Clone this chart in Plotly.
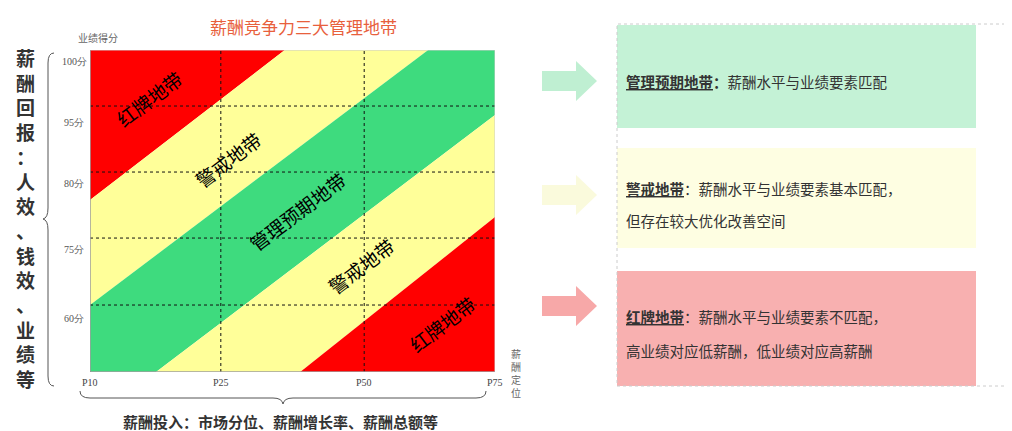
import plotly.graph_objects as go

# ---- data ----
x_ticks = [0, 0.323, 0.677, 1]
x_labels = ["P10", "P25", "P50", "P75"]
y_grid = [0.208, 0.416, 0.621, 0.826]
y_label_pos = [0.965, 0.775, 0.585, 0.38, 0.167]
y_labels = ["100分", "95分", "80分", "75分", "60分"]

# band polygons (x, y in normalised axis units)
red_top_x = [0, 0, 0.481]
red_top_y = [0.534, 1, 1]
yel_top_x = [0, 0, 0.481, 0.835]
yel_top_y = [0.208, 0.534, 1, 1]
green_x = [0, 0, 0.835, 1, 1, 0.163]
green_y = [0, 0.208, 1, 1, 0.798, 0]
yel_bot_x = [0.163, 1, 1, 0.519]
yel_bot_y = [0, 0.798, 0.481, 0]
red_bot_x = [0.519, 1, 1]
red_bot_y = [0, 0.481, 0]

bands = [
    (red_top_x, red_top_y, "#FF0000"),
    (yel_top_x, yel_top_y, "#FFFF99"),
    (green_x, green_y, "#3EDB7E"),
    (yel_bot_x, yel_bot_y, "#FFFF99"),
    (red_bot_x, red_bot_y, "#FF0000"),
]
band_names = ["红牌地带", "警戒地带", "管理预期地带", "警戒地带", "红牌地带"]
band_label_x = [0.145, 0.34, 0.51, 0.67, 0.87]
band_label_y = [0.85, 0.66, 0.5, 0.33, 0.15]

W, H = 1012, 431
L, R, T, B = 82, 487, 42, 364
FONT = "Noto Sans CJK SC"


def px(x):
    return (x - L) / (R - L)


def py(y):
    return (B - y) / (B - T)


fig = go.Figure()
for bx, by, c in bands:
    fig.add_trace(go.Scatter(x=bx + [bx[0]], y=by + [by[0]], fill="toself",
                             fillcolor=c, line=dict(width=0), mode="lines",
                             hoverinfo="skip", showlegend=False))

ann = []


def A(**kw):
    kw.setdefault("xanchor", "center")
    kw.setdefault("yanchor", "middle")
    kw.setdefault("showarrow", False)
    kw.setdefault("xref", "paper")
    kw.setdefault("yref", "paper")
    ann.append(kw)


for n, x, y in zip(band_names, band_label_x, band_label_y):
    A(x=x, y=y, xref="x", yref="y", text=n, textangle=-37,
      font=dict(size=19, color="#000", family=FONT))

shapes = []
for g in x_ticks[1:3]:
    shapes.append(dict(type="line", xref="x", yref="y", x0=g, x1=g, y0=0, y1=1,
                       line=dict(color="#111", width=1, dash="3px,3px")))
for g in y_grid:
    shapes.append(dict(type="line", xref="x", yref="y", x0=0, x1=1, y0=g, y1=g,
                       line=dict(color="#111", width=1, dash="3px,3px")))
shapes.append(dict(type="rect", xref="x", yref="y", x0=0, x1=1, y0=0, y1=1, line=dict(color="#ccc", width=1)))
shapes.append(dict(type="line", xref="x", yref="y", x0=0, x1=0, y0=0, y1=1, line=dict(color="#888", width=1)))
shapes.append(dict(type="line", xref="x", yref="y", x0=0, x1=1, y0=0, y1=0, line=dict(color="#888", width=1)))

for t, v in zip(x_labels, x_ticks):
    A(x=v, y=py(374), xref="x", text=t, font=dict(size=10, color="#444", family="Liberation Serif"))
for t, v in zip(y_labels, y_label_pos):
    A(x=px(66), y=v, text=t, font=dict(size=10, color="#555", family="Liberation Serif"))

A(x=px(295), y=py(18), text="薪酬竞争力三大管理地带", font=dict(size=17, color="#E8603C", family=FONT))
A(x=px(90), y=py(30), text="业绩得分", font=dict(size=10, color="#666", family=FONT))
A(x=px(508), y=py(365), text="薪<br>酬<br>定<br>位", font=dict(size=10, color="#666", family=FONT))
A(x=px(17), y=py(210), text="<b>" + "<br>".join("薪酬回报：人效、钱效、业绩等") + "</b>",
  font=dict(size=19, color="#333", family=FONT))
A(x=px(272), y=py(413), text="<b>薪酬投入：市场分位、薪酬增长率、薪酬总额等</b>",
  font=dict(size=15, color="#333", family=FONT))


def P(x, y):
    return f"{px(x)},{py(y)}"


shapes.append(dict(type="path", xref="paper", yref="paper",
                   path=f"M{P(46,45)} Q{P(40,45)} {P(40,55)} L{P(40,200)} Q{P(40,210)} {P(35,211)} "
                        f"Q{P(40,212)} {P(40,222)} L{P(40,368)} Q{P(40,378)} {P(46,378)}",
                   line=dict(color="#555", width=1)))
shapes.append(dict(type="path", xref="paper", yref="paper",
                   path=f"M{P(72,383)} Q{P(72,390)} {P(82,390)} L{P(265,390)} Q{P(274,390)} {P(275,396)} "
                        f"Q{P(276,390)} {P(285,390)} L{P(468,390)} Q{P(478,390)} {P(478,383)}",
                   line=dict(color="#555", width=1)))

shapes.append(dict(type="rect", xref="paper", yref="paper", x0=px(609), x1=px(1000), y0=py(378), y1=py(16),
                   line=dict(color="#ccc", width=1, dash="dot")))
boxes = [(17, 120, "#C4F2D6", "#BFEFD2", 73), (140, 240, "#FEFEE2", "#FAFADC", 187), (263, 378, "#F8B0B0", "#F7A8A8", 298)]
for y0, y1, c, ac, ay in boxes:
    shapes.append(dict(type="rect", xref="paper", yref="paper", x0=px(609), x1=px(968), y0=py(y1), y1=py(y0),
                       fillcolor=c, line=dict(width=0), layer="below"))
    shapes.append(dict(type="path", xref="paper", yref="paper",
                       path=f"M{P(534,ay-10)} L{P(568,ay-10)} L{P(568,ay-20)} L{P(589,ay)} L{P(568,ay+20)} "
                            f"L{P(568,ay+10)} L{P(534,ay+10)} Z",
                       fillcolor=ac, line=dict(width=0)))

texts = [
    (73, "<b><u>管理预期地带</u>：</b>薪酬水平与业绩要素匹配"),
    (180, "<b><u>警戒地带</u></b>：薪酬水平与业绩要素基本匹配，"),
    (212, "但存在较大优化改善空间"),
    (308, "<b><u>红牌地带</u></b>：薪酬水平与业绩要素不匹配，"),
    (342, "高业绩对应低薪酬，低业绩对应高薪酬"),
]
for yy, t in texts:
    A(x=px(616), y=py(yy), text=t, xanchor="left", font=dict(size=14.5, color="#333", family=FONT))

fig.update_layout(
    width=W, height=H, margin=dict(l=L, r=W - R, t=T, b=H - B),
    paper_bgcolor="white", plot_bgcolor="white",
    xaxis=dict(range=[0, 1], visible=False, fixedrange=True),
    yaxis=dict(range=[0, 1], visible=False, fixedrange=True),
    annotations=ann, shapes=shapes, showlegend=False,
)
fig.write_html("out.html")
